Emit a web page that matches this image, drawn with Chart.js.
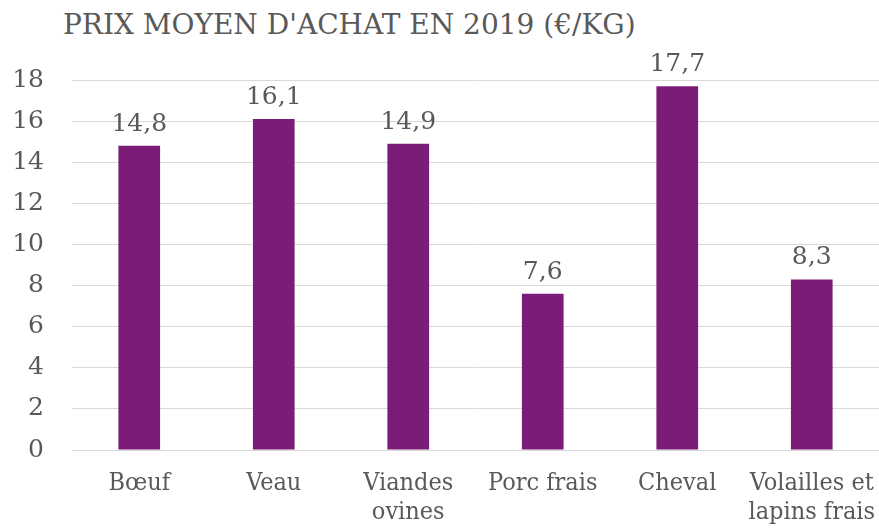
<!DOCTYPE html>
<html><head><meta charset="utf-8">
<script src="https://cdn.jsdelivr.net/npm/chart.js@4.4.0/dist/chart.umd.min.js"></script>
<style>
html,body{margin:0;padding:0;background:#fff;}
#wrap{position:relative;width:879px;height:529px;}
#title{position:absolute;left:63px;top:8px;font-family:"DejaVu Serif",serif;font-size:28px;color:#595959;white-space:nowrap;}
canvas{position:absolute;left:0;top:0;}
</style></head>
<body>
<div id="wrap"><div id="title">PRIX MOYEN D'ACHAT EN 2019 (€/KG)</div><canvas id="c" width="879" height="529"></canvas></div>
<script>
const categories = [["Bœuf"], ["Veau"], ["Viandes","ovines"], ["Porc frais"], ["Cheval"], ["Volailles et","lapins frais"]];
const prices = [14.8, 16.1, 14.9, 7.6, 17.7, 8.3];
const yTicks = [0, 2, 4, 6, 8, 10, 12, 14, 16, 18];

const FONT = "'DejaVu Serif', serif";
const FONT_X = "'DejaVu Serif Condensed', 'DejaVu Serif', serif";
const TXT = "#595959";

const labelPlugin = {
  id: 'valueLabels',
  afterDatasetsDraw(chart) {
    const ctx = chart.ctx;
    const meta = chart.getDatasetMeta(0);
    ctx.save();
    ctx.font = "25px " + FONT;
    ctx.fillStyle = TXT;
    ctx.textAlign = 'center';
    ctx.textBaseline = 'alphabetic';
    meta.data.forEach((bar, i) => {
      ctx.fillText(prices[i].toFixed(1).replace('.', ','), bar.x, bar.y - 15);
    });
    ctx.restore();
  }
};

new Chart(document.getElementById('c'), {
  type: 'bar',
  data: {
    labels: categories,
    datasets: [{ data: prices, backgroundColor: '#7B1C78', barPercentage: 0.31, categoryPercentage: 1 }]
  },
  options: {
    responsive: false,
    animation: false,
    layout: { padding: { top: 80, right: 0, left: 10, bottom: 0 } },
    plugins: { legend: { display: false }, tooltip: { enabled: false }, title: { display: false } },
    scales: {
      x: {
        afterFit(axis) { axis.height = 79; axis.paddingLeft = 0; axis.paddingRight = 0; },
        grid: { display: false, drawTicks: false },
        border: { color: '#d9d9d9', width: 1 },
        ticks: { color: TXT, font: { family: FONT_X, size: 25, lineHeight: 1.16 }, maxRotation: 0, autoSkip: false, padding: 19 }
      },
      y: {
        min: 0, max: 18,
        afterFit(axis) { axis.width = 62; },
        afterBuildTicks(axis) { axis.ticks = yTicks.map(v => ({ value: v })); },
        grid: { color: '#d9d9d9', drawTicks: false },
        border: { display: false },
        ticks: { color: TXT, font: { family: FONT, size: 25 }, padding: 28 }
      }
    }
  },
  plugins: [labelPlugin]
});
</script>
</body></html>
